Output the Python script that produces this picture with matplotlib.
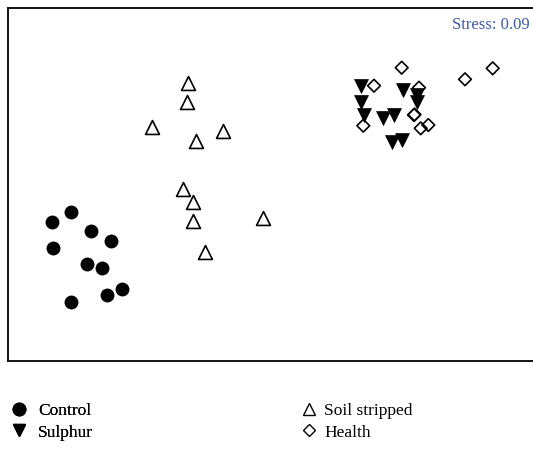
import matplotlib
matplotlib.use('Agg')
import matplotlib.pyplot as plt
from matplotlib.lines import Line2D

# NMDS ordination coordinates (axis 2 grows downward)
control_x = [70.7, 51.7, 90.7, 110.7, 53.3, 86.7, 101.7, 121.7, 107.3, 71.3]
control_y = [211.7, 221.7, 230.7, 241.0, 248.3, 264.3, 267.7, 289.3, 295.3, 302.0]

soil_x = [188.3, 186.7, 152.3, 223.3, 196.0, 182.7, 193.3, 193.3, 263.3, 205.0]
soil_y = [82.7, 102.3, 127.0, 131.0, 140.7, 189.0, 202.0, 220.7, 218.3, 251.7]

sulphur_x = [360.7, 402.7, 416.7, 417.3, 360.7, 364.0, 382.7, 394.0, 392.3, 401.7]
sulphur_y = [85.7, 90.0, 95.0, 101.7, 101.7, 115.0, 118.3, 115.0, 142.3, 140.0]

health_x = [401.7, 374.0, 419.0, 414.0, 414.5, 363.3, 420.7, 428.3, 492.7, 465.0]
health_y = [67.7, 85.7, 87.7, 115.0, 114.5, 125.7, 128.3, 125.0, 68.3, 79.3]

stress = 0.09

plt.rcParams['font.family'] = ['Liberation Serif', 'DejaVu Serif']

fig = plt.figure(figsize=(5.33, 4.54), dpi=100)
ax = fig.add_axes([7.5 / 533, 1 - 361 / 454, 1.0, (361 - 8) / 454])

ax.scatter(control_x, control_y, s=100, marker='o', c='black', linewidths=0)
ax.scatter(soil_x, soil_y, s=100, marker='^', facecolors='white',
           edgecolors='black', linewidths=1.2)
ax.scatter(sulphur_x, sulphur_y, s=100, marker='v', c='black',
           edgecolors='black', linewidths=0.5)
ax.scatter(health_x, health_y, s=42, marker='D', facecolors='none',
           edgecolors='black', linewidths=1.2)

ax.set_xlim(7.5, 540.5)
ax.set_ylim(361, 8)
ax.set_xticks([])
ax.set_yticks([])
for sp in ax.spines.values():
    sp.set_color('#111111')
    sp.set_linewidth(1.4)

ax.text(530, 25, f'Stress: {stress}', color='#3d5aa8', fontsize=12,
        ha='right', va='center', transform=ax.transData)

def handle(marker, fc, ms):
    return Line2D([], [], linestyle='none', marker=marker, markersize=ms,
                  markerfacecolor=fc, markeredgecolor='black', markeredgewidth=1.0)

leg1 = fig.legend([handle('o', 'black', 9), handle('v', 'black', 8)],
                  ['Control', 'Sulphur'], loc='upper left',
                  bbox_to_anchor=(10 / 533, 1 - 403 / 454), frameon=False,
                  fontsize=12.5, handlelength=1.0, handletextpad=0.6,
                  labelspacing=0.3, borderpad=0, borderaxespad=0)
fig.legend([handle('^', 'white', 8), handle('D', 'white', 6)],
           ['Soil stripped', 'Health'], loc='upper left',
           bbox_to_anchor=(300 / 533, 1 - 403 / 454), frameon=False,
           fontsize=12.5, handlelength=1.0, handletextpad=0.4,
           labelspacing=0.3, borderpad=0, borderaxespad=0)
fig.add_artist(leg1)

fig.savefig('out.png', dpi=100)
